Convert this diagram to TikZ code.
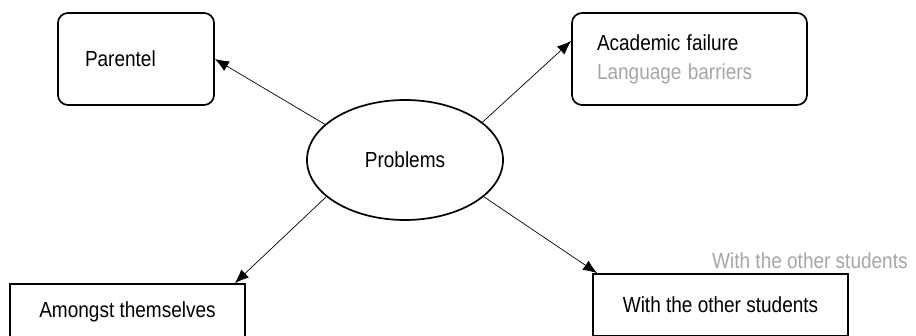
\documentclass[tikz,border=0pt]{standalone}
\usepackage{fontspec}
\setmainfont{Liberation Sans}
\usetikzlibrary{arrows.meta,shapes.geometric}
\newcommand{\tall}[1]{\scalebox{1}[1.15]{#1}}
\tikzset{rbox/.style={draw,line width=1.7pt,rounded corners=10pt,align=left},
  sbox/.style={draw,line width=1.7pt,align=center},
  lbl/.style={font=\fontsize{19}{29}\selectfont},
  arr/.style={->,line width=0.7pt}}
\begin{document}
\begin{tikzpicture}[x=1pt,y=-1pt,>={Latex[length=14pt,width=11pt]}]
\useasboundingbox (0,0) rectangle (916,336);
\clip (0,0) rectangle (916,336);
\node[rbox,lbl,minimum width=156,minimum height=92,text width=102,inner xsep=0pt](par) at (136,59){\tall{Parentel}};
\node[rbox,lbl,minimum width=235,minimum height=92,text width=185,inner xsep=0pt](acad) at (689.5,59){\tall{Academic failure}\\ \tall{\textcolor{black!35}{Language barriers}}};
\node[ellipse,draw,line width=1.7pt,lbl,minimum width=196,minimum height=120,inner sep=0pt](prob) at (405,160){\tall{Problems}};
\node[sbox,lbl,minimum width=235,minimum height=56](amg) at (127.5,312){\tall{Amongst themselves}};
\node[sbox,lbl,minimum width=255,minimum height=62](wst) at (720.5,305){\tall{With the other students}};
\node[lbl,text=black!35,anchor=base west,inner sep=0pt](ghost) at (712,269){\tall{With the other students}};
\draw[arr](prob.156)--(par.east);
\draw[arr](prob.26)--([yshift=18pt]acad.west);
\draw[arr](prob.205)--([xshift=-11pt]amg.north east);
\draw[arr](prob.-25)--([xshift=5pt]wst.north west);
\end{tikzpicture}
\end{document}
